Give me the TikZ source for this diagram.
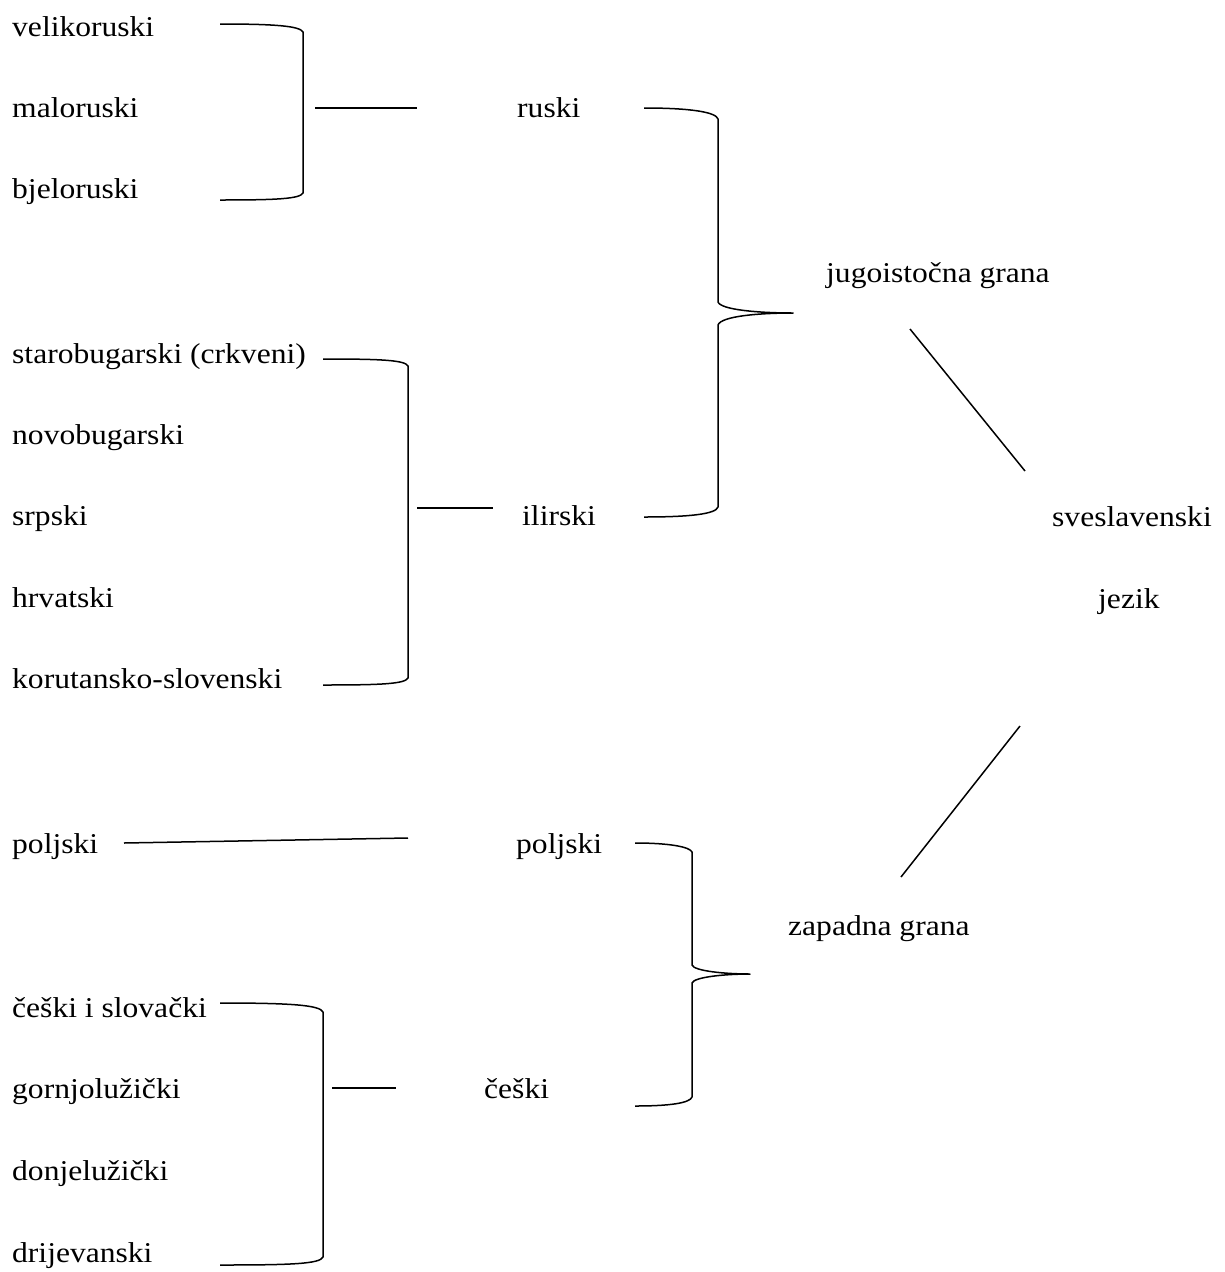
\documentclass[tikz,border=0pt]{standalone}
\usepackage{fontspec}
\setmainfont{Liberation Serif}[FakeStretch=1.1]
\usetikzlibrary{positioning}
\tikzset{lang/.style={anchor=base west, inner sep=0pt},
grp/.style={anchor=base west, inner sep=0pt},
-/.style={color=black, line width=1.5pt},
brk/.style={-, line join=round}}

\begin{document}
\begin{tikzpicture}[x=1pt,y=-1pt,font=\fontsize{28.7}{32}\selectfont]
  \useasboundingbox (0,0) rectangle (1225,1272);
  % ruski
  \node (vel) [lang] at (12,36) {velikoruski};
  \node (mal) [lang] at (12,117) {maloruski};
  \node (bje) [lang] at (12,198) {bjeloruski};
  % ilirski
  \node (star) [lang] at (12,363) {starobugarski (crkveni)};
  \node (novo) [lang] at (12,444) {novobugarski};
  \node (srp) [lang] at (12,525) {srpski};
  \node (hrv) [lang] at (12,607) {hrvatski};
  \node (kor) [lang] at (12,688) {korutansko-slovenski};
  % zapadni
  \node (polL) [lang] at (12,853) {poljski};
  \node (ces) [lang] at (12,1017) {češki i slovački};
  \node (gor) [lang] at (12,1098) {gornjolužički};
  \node (don) [lang] at (12,1180) {donjelužički};
  \node (dri) [lang] at (12,1262) {drijevanski};

  \node (rus) [grp] at (517,117) {ruski};
  \node (ili) [grp] at (522,525) {ilirski};
  \node (polM) [grp] at (516,853) {poljski};
  \node (cesM) [grp] at (484,1098) {češki};
  \node (jug) [grp] at (826,282) {jugoistočna grana};
  \node (zap) [grp] at (788,935) {zapadna grana};
  \node (sves) [grp] at (1052,526) {sveslavenski};
  \node (jez) [grp] at (1098,608) {jezik};

  \coordinate (r1) at (315,108);  \coordinate (r2) at (417,108);
  \coordinate (i1) at (417,508);  \coordinate (i2) at (493,508);
  \coordinate (p1) at (124,843);  \coordinate (p2) at (408,838);
  \coordinate (c1) at (332,1088); \coordinate (c2) at (396,1088);
  \coordinate (j1) at (910,329);  \coordinate (j2) at (1025,471);
  \coordinate (z1) at (1020,726); \coordinate (z2) at (901,877);

  \draw [brk] (220,24) .. controls (275,24) and (300,26) .. (303,32)
    -- (303,193) .. controls (300,199) and (275,200) .. (220,200);
  \draw [brk] (323,359) .. controls (380,359) and (405,360) .. (408,366)
    -- (408,678) .. controls (405,684) and (380,685) .. (323,685);
  \draw [brk] (220,1003) .. controls (290,1003) and (320,1005) .. (323,1012)
    -- (323,1257) .. controls (320,1264) and (290,1265) .. (220,1265);

  \draw [brk] (644,108) .. controls (690,108) and (716,112) .. (718,119)
    -- (718,302) .. controls (721,310) and (760,313) .. (793,313)
    .. controls (760,313) and (721,316) .. (718,325)
    -- (718,507) .. controls (716,514) and (690,517) .. (644,517);
  \draw [brk] (635,843) .. controls (670,843) and (690,847) .. (692,852)
    -- (692,965) .. controls (694,971) and (725,974) .. (750,974)
    .. controls (725,974) and (694,977) .. (692,983)
    -- (692,1097) .. controls (690,1103) and (670,1106) .. (635,1106);

  \draw [-] (r1) -- (r2);
  \draw [-] (i1) -- (i2);
  \draw [-] (p1) -- (p2);
  \draw [-] (c1) -- (c2);
  \draw [-] (j1) -- (j2);
  \draw [-] (z1) -- (z2);
\end{tikzpicture}
\end{document}
